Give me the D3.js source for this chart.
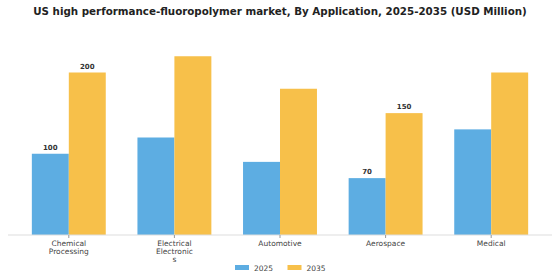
<!DOCTYPE html>
<html>
<head>
<meta charset="utf-8">
<script src="https://cdn.jsdelivr.net/npm/d3@7"></script>
<style>
body { margin: 0; background: #fff; }
text { font-family: "DejaVu Sans", sans-serif; }
</style>
</head>
<body>
<div id="chart"></div>
<script>
var categories = ["Chemical Processing", "Electrical Electronics", "Automotive", "Aerospace", "Medical"];
var years = ["2025", "2035"];
var values2025 = [100, 120, 90, 70, 130];
var values2035 = [200, 220, 180, 150, 200];
// only some bars carry a value label in the original
var labels2025 = [100, null, null, 70, null];
var labels2035 = [200, null, null, 150, null];
var colors = ["#5DADE2", "#F7C04A"];

var width = 560, height = 280;

var svg = d3.select("#chart").append("svg")
    .attr("width", width)
    .attr("height", height);

svg.append("text")
    .attr("x", 280)
    .attr("y", 15)
    .attr("text-anchor", "middle")
    .attr("font-size", 10.3)
    .attr("font-weight", "bold")
    .attr("fill", "#222")
    .text("US high performance-fluoropolymer market, By Application, 2025-2035 (USD Million)");

var x0 = d3.scaleBand()
    .domain(categories)
    .range([16, 544])
    .paddingInner(0.3)
    .paddingOuter(0.15);
var x1 = d3.scaleBand()
    .domain(years)
    .range([0, x0.bandwidth()]);
var y = d3.scaleLinear()
    .domain([0, 240])
    .range([235, 40]);

var rows = categories.map(function(c, i) {
    return {cat: c, vals: [
        {year: "2025", value: values2025[i], label: labels2025[i]},
        {year: "2035", value: values2035[i], label: labels2035[i]}
    ]};
});

var groups = svg.selectAll(".grp")
    .data(rows)
    .enter().append("g")
    .attr("class", "grp")
    .attr("transform", function(d) { return "translate(" + x0(d.cat) + ",0)"; });

groups.selectAll("rect")
    .data(function(d) { return d.vals; })
    .enter().append("rect")
    .attr("x", function(d) { return x1(d.year); })
    .attr("width", x1.bandwidth())
    .attr("y", function(d) { return y(d.value); })
    .attr("height", function(d) { return y(0) - y(d.value); })
    .attr("fill", function(d, i) { return colors[i]; });

groups.selectAll(".val")
    .data(function(d) { return d.vals.filter(function(v) { return v.label != null; }); })
    .enter().append("text")
    .attr("class", "val")
    .attr("x", function(d) { return x1(d.year) + x1.bandwidth() / 2; })
    .attr("y", function(d) { return y(d.value) - 4; })
    .attr("text-anchor", "middle")
    .attr("font-size", 7)
    .attr("font-weight", "bold")
    .attr("fill", "#333")
    .text(function(d) { return d.label; });

// x axis
var xAxis = svg.append("g")
    .attr("transform", "translate(0," + y(0) + ")")
    .call(d3.axisBottom(x0).tickSize(3).tickSizeOuter(0));
xAxis.select(".domain").remove();
xAxis.insert("line", ":first-child")
    .attr("x1", 8).attr("x2", 552)
    .attr("stroke", "#ddd");
xAxis.selectAll(".tick line").attr("stroke", "#999");
xAxis.selectAll(".tick text").remove();

function wrapLabel(s, maxChars) {
    var out = [];
    s.split(" ").forEach(function(w) {
        while (w.length > maxChars) {
            out.push(w.slice(0, maxChars));
            w = w.slice(maxChars);
        }
        out.push(w);
    });
    return out;
}

xAxis.selectAll(".tick").each(function(d) {
    var t = d3.select(this).append("text")
        .attr("text-anchor", "middle")
        .attr("font-size", 7.5)
        .attr("fill", "#444")
        .attr("y", 11);
    wrapLabel(d, 10).forEach(function(line, i) {
        t.append("tspan")
            .attr("x", 0)
            .attr("dy", i === 0 ? 0 : 8)
            .text(line);
    });
});

// legend
var legend = svg.append("g");
var legX = [235, 287.5];
years.forEach(function(yr, i) {
    legend.append("rect")
        .attr("x", legX[i])
        .attr("y", 265)
        .attr("width", 14)
        .attr("height", 5)
        .attr("fill", colors[i]);
    legend.append("text")
        .attr("x", legX[i] + 19)
        .attr("y", 270.5)
        .attr("font-size", 7.5)
        .attr("fill", "#444")
        .text(yr);
});
</script>
</body>
</html>
